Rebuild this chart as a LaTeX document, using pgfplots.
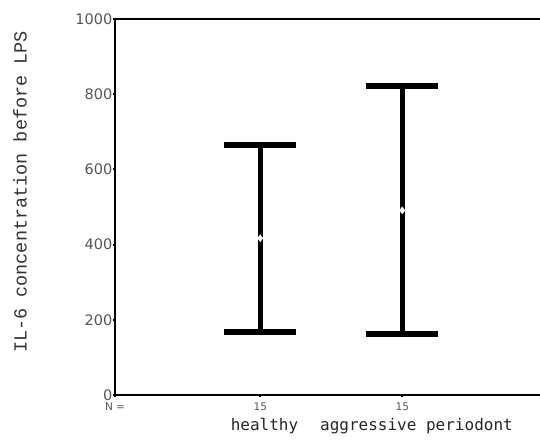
\documentclass[border=0pt]{standalone}
\usepackage{pgfplots}
\pgfplotsset{compat=1.18}
\usepackage{fontspec}
\newfontfamily\tickfont{DejaVu Sans}
\newfontfamily\monofont{Liberation Mono}
\newfontfamily\catfont{DejaVu Sans Mono}
\definecolor{tickgray}{HTML}{555555}
\begin{document}
\begin{tikzpicture}[x=1pt,y=1pt]
\useasboundingbox (0,0) rectangle (540,439);
\begin{axis}[
  at={(115pt,44pt)}, anchor=south west,
  scale only axis, width=425pt, height=376pt,
  xmin=-0.023, xmax=2.97, ymin=0, ymax=1000,
  axis x line=box, axis y line=left,
  axis line style={black, line width=1.4pt, -},
  clip=false,
  xtick={-0.023,1,2}, xticklabels={N =,15,15},
  ytick={0,200,400,600,800,1000},
  tick align=outside, major tick length=2pt,
  tick style={black, line width=2pt},
  xtick pos=bottom, ytick pos=left,
  yticklabel style={font=\tickfont\fontsize{14.5}{16}\selectfont, text=tickgray, inner xsep=0.5pt},
  xticklabel style={font=\tickfont\fontsize{10.5}{12}\selectfont, text=tickgray, yshift=-2pt},
  /pgf/number format/assume math mode=true,
  /pgf/number format/1000 sep={},
]
\addplot+[draw=none, mark=none, forget plot,
  error bars/.cd, y dir=both, y explicit,
  error bar style={black, line width=5pt},
  error mark=-, error mark options={black, rotate=90, line width=6pt, mark size=36pt}]
  coordinates {
    (1,417) += (0,247) -= (0,250)
    (2,491) += (0,332) -= (0,329)
  };
\addplot[only marks, mark=diamond*, mark size=3.5pt, white, fill=white]
  coordinates {(1,417) (2,491)};
\node[anchor=base, font=\catfont\fontsize{16}{18}\selectfont, text=black!85] at (axis cs:1.03,0) [yshift=-35pt] {healthy};
\node[anchor=base, font=\catfont\fontsize{16}{18}\selectfont, text=black!85] at (axis cs:2.1,0) [yshift=-35pt] {aggressive periodont};
\end{axis}
\node[rotate=90, font=\monofont\fontsize{18.5}{20}\selectfont, text=black!80] at (20,247) {IL-6 concentration before LPS};
\end{tikzpicture}
\end{document}
